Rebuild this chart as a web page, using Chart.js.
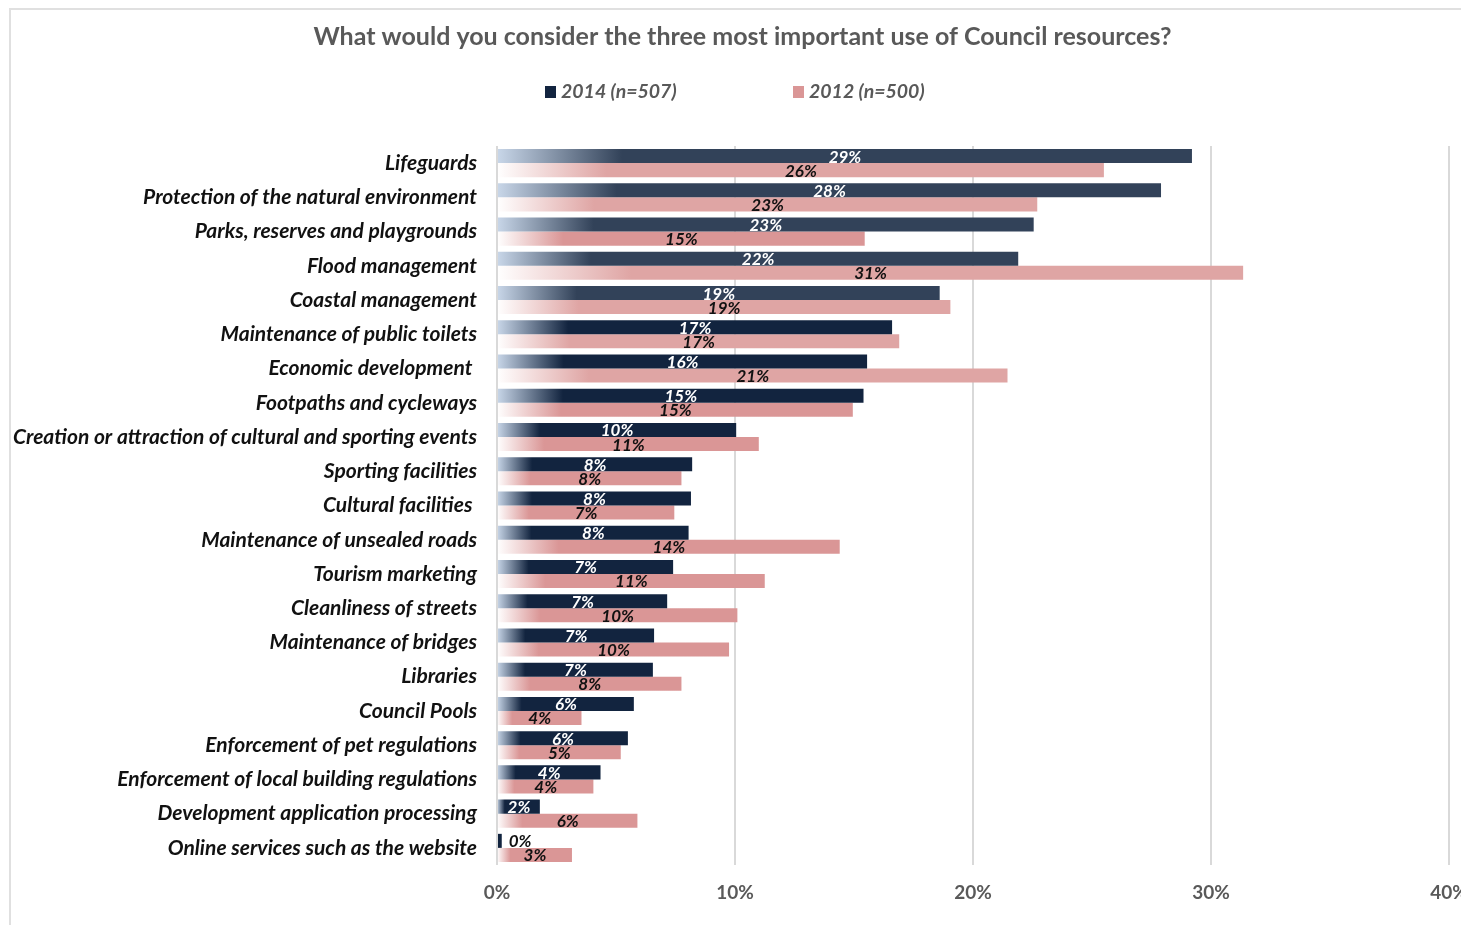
<!DOCTYPE html>
<html>
<head>
<meta charset="utf-8">
<title>Council resources</title>
<script src="https://cdn.jsdelivr.net/npm/chart.js@4/dist/chart.umd.min.js"></script>
<style>
  html, body { margin: 0; padding: 0; background: #fff; overflow: hidden; }
  #frame { position: absolute; left: 9px; top: 8px; width: 1600px; height: 1100px;
           border-left: 2px solid #e0e0e0; border-top: 2px solid #e0e0e0; }
  #wrap { position: absolute; left: 0; top: 0; width: 1485px; height: 925px; }
</style>
</head>
<body>
<div id="frame"></div>
<div id="wrap"><canvas id="chart"></canvas></div>
<script>
const categories = [
  'Lifeguards',
  'Protection of the natural environment',
  'Parks, reserves and playgrounds',
  'Flood management',
  'Coastal management',
  'Maintenance of public toilets',
  'Economic development ',
  'Footpaths and cycleways',
  'Creation or attraction of cultural and sporting events',
  'Sporting facilities',
  'Cultural facilities ',
  'Maintenance of unsealed roads',
  'Tourism marketing',
  'Cleanliness of streets',
  'Maintenance of bridges',
  'Libraries',
  'Council Pools',
  'Enforcement of pet regulations',
  'Enforcement of local building regulations',
  'Development application processing',
  'Online services such as the website'
];
const values2014 = [29.2, 27.9, 22.55, 21.9, 18.6, 16.6, 15.55, 15.4, 10.05, 8.2, 8.15, 8.05, 7.4, 7.15, 6.6, 6.55, 5.75, 5.5, 4.35, 1.8, 0.2];
const values2012 = [25.5, 22.7, 15.45, 31.35, 19.05, 16.9, 21.45, 14.95, 11.0, 7.75, 7.45, 14.4, 11.25, 10.1, 9.75, 7.75, 3.55, 5.2, 4.05, 5.9, 3.15];
const seriesNames = ['2014 (n=507)', '2012 (n=500)'];
const tickMax = 40;
const tickStep = 10;

// solid end colours of the bars (upper rows are a touch lighter)
const navyTone = i => (i < 5 ? '#324259' : '#12243f');
const pinkTone = i => ([0, 1, 3, 4, 5, 6].includes(i) ? '#dfa5a4' : '#da9696');

// each bar fades in from a pale colour over its first ~18%
function barFill(tone, pale) {
  return (c) => {
    const chart = c.chart;
    const solid = tone(c.dataIndex || 0);
    if (!chart.chartArea || c.type !== 'data') return solid;
    const x0 = chart.scales.x.getPixelForValue(0);
    const x1 = Math.max(chart.scales.x.getPixelForValue(c.raw), x0 + 1);
    const g = chart.ctx.createLinearGradient(x0, 0, x1, 0);
    g.addColorStop(0, pale);
    g.addColorStop(0.18, solid);
    g.addColorStop(1, solid);
    return g;
  };
}

const legendSwatch = ['#12243f', '#da9696'];

const headerLegend = {
  id: 'headerLegend',
  afterDraw(chart) {
    const ctx = chart.ctx;
    const xs = [545, 793];
    ctx.save();
    ctx.font = 'italic bold 19.5px Lato';
    ctx.textBaseline = 'middle';
    ctx.textAlign = 'left';
    chart.data.datasets.forEach((ds, i) => {
      ctx.fillStyle = legendSwatch[i];
      ctx.fillRect(xs[i], 86, 11, 12);
      ctx.fillStyle = '#595959';
      ctx.fillText(ds.label, xs[i] + 16, 92);
    });
    ctx.restore();
  }
};

const barValues = {
  id: 'barValues',
  afterDatasetsDraw(chart) {
    const ctx = chart.ctx;
    ctx.save();
    ctx.font = 'italic bold 17px Lato';
    ctx.textBaseline = 'middle';
    chart.data.datasets.forEach((ds, i) => {
      chart.getDatasetMeta(i).data.forEach((bar, j) => {
        const text = Math.round(ds.data[j]) + '%';
        const w = ctx.measureText(text).width;
        if (bar.x - bar.base < w + 4) {
          ctx.textAlign = 'left';
          ctx.fillStyle = '#111';
          ctx.fillText(text, bar.x + 7, bar.y + 1);
        } else {
          ctx.textAlign = 'center';
          ctx.fillStyle = i === 0 ? '#fff' : '#111';
          ctx.fillText(text, (bar.x + bar.base) / 2, bar.y + 1);
        }
      });
    });
    ctx.restore();
  }
};

const chart = new Chart(document.getElementById('chart'), {
  type: 'bar',
  data: {
    labels: categories,
    datasets: [
      {
        label: seriesNames[0],
        data: values2014,
        backgroundColor: barFill(navyTone, '#c9d7e9'),
        categoryPercentage: 0.82,
        barPercentage: 1
      },
      {
        label: seriesNames[1],
        data: values2012,
        backgroundColor: barFill(pinkTone, '#ffffff'),
        categoryPercentage: 0.82,
        barPercentage: 1
      }
    ]
  },
  options: {
    indexAxis: 'y',
    responsive: true,
    maintainAspectRatio: false,
    animation: false,
    layout: { padding: 0 },
    plugins: {
      legend: { display: false },
      tooltip: { enabled: false },
      title: {
        display: true,
        text: 'What would you consider the three most important use of Council resources?',
        color: '#595959',
        font: { family: 'Lato', size: 25, weight: 'bold' },
        padding: { top: 22, bottom: 94 }
      }
    },
    scales: {
      x: {
        min: 0,
        max: tickMax,
        ticks: {
          stepSize: tickStep,
          callback: v => v + '%',
          color: '#595959',
          font: { family: 'Lato', size: 19, weight: 'bold' },
          padding: 16,
          maxRotation: 0
        },
        grid: { color: '#d9d9d9', lineWidth: 2, drawTicks: false },
        border: { display: false },
        afterFit: s => { s.paddingLeft = 0; s.paddingRight = 36; s.height = 60; }
      },
      y: {
        ticks: {
          color: '#111',
          font: { family: 'Lato', size: 21, weight: 'bold', style: 'italic' },
          padding: 20,
          autoSkip: false
        },
        grid: { display: false, drawTicks: false },
        border: { display: false },
        afterFit: s => { s.width = 497; s.paddingTop = 0; s.paddingBottom = 0; }
      }
    }
  },
  plugins: [barValues, headerLegend]
});
</script>
</body>
</html>
